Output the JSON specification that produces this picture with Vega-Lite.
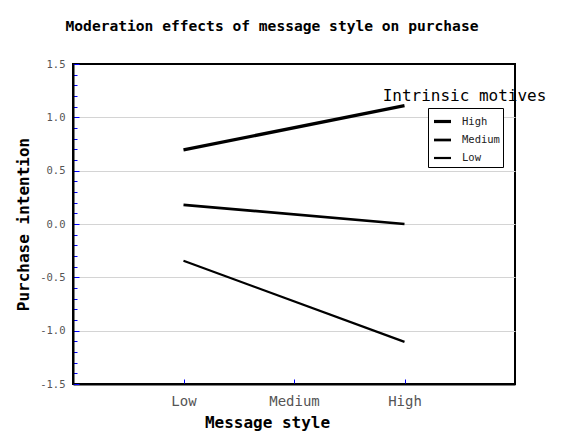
{
  "$schema": "https://vega.github.io/schema/vega-lite/v6.json",
  "autosize": "none",
  "width": 442,
  "height": 320,
  "padding": {"left": 73, "top": 64, "right": 49, "bottom": 47},
  "background": "white",
  "title": {
    "text": "Moderation effects of message style on purchase",
    "font": "DejaVu Sans Mono",
    "fontSize": 14.6,
    "fontWeight": "bold",
    "color": "black",
    "anchor": "middle",
    "dx": -22,
    "offset": 25
  },
  "config": {
    "view": {"stroke": "black", "strokeWidth": 2},
    "axis": {"domain": true, "domainColor": "black", "domainWidth": 2}
  },
  "data": {
    "values": [
      {"style": "Low", "motives": "High", "intention": 0.695},
      {"style": "High", "motives": "High", "intention": 1.11},
      {"style": "Low", "motives": "Medium", "intention": 0.18},
      {"style": "High", "motives": "Medium", "intention": 0.0},
      {"style": "Low", "motives": "Low", "intention": -0.345},
      {"style": "High", "motives": "Low", "intention": -1.105}
    ]
  },
  "layer": [
    {
      "mark": {"type": "line", "color": "black", "strokeCap": "butt"},
      "encoding": {
        "x": {
          "field": "style",
          "type": "ordinal",
          "scale": {"type": "point", "domain": ["Low", "Medium", "High"], "padding": 1},
          "axis": {
            "title": "Message style",
            "titleFont": "DejaVu Sans Mono",
            "titleFontSize": 16,
            "titleFontWeight": "bold",
            "titleColor": "black",
            "titleX": 194,
            "titlePadding": 6,
            "labelAngle": 0,
            "labelFont": "DejaVu Sans Mono",
            "labelFontSize": 14,
            "labelColor": "#555555",
            "labelPadding": 15,
            "tickColor": "blue",
            "tickSize": -5,
            "tickWidth": 1,
            "grid": false
          }
        },
        "y": {
          "field": "intention",
          "type": "quantitative",
          "scale": {"domain": [-1.5, 1.5], "nice": false, "zero": false},
          "axis": {
            "title": "Purchase intention",
            "titleFont": "DejaVu Sans Mono",
            "titleFontSize": 16,
            "titleFontWeight": "bold",
            "titleColor": "black",
            "titlePadding": 8,
            "tickCount": 100,
            "values": [-1.5, -1.4, -1.3, -1.2, -1.1, -1.0, -0.9, -0.8, -0.7, -0.6, -0.5, -0.4, -0.3, -0.2, -0.1, 0.0, 0.1, 0.2, 0.3, 0.4, 0.5, 0.6, 0.7, 0.8, 0.9, 1.0, 1.1, 1.2, 1.3, 1.4, 1.5],
            "labelExpr": "abs(round(datum.value * 10)) % 5 == 0 ? replace(format(datum.value, '.1f'), '\u2212', '-') : ''",
            "labelOverlap": false,
            "labelFont": "DejaVu Sans Mono",
            "labelFontSize": 10.5,
            "labelColor": "#555555",
            "labelPadding": 14,
            "tickColor": "blue",
            "tickWidth": 1,
            "tickSize": {"condition": {"test": "abs(round(datum.value * 10)) % 5 == 0", "value": -6}, "value": -4},
            "grid": true,
            "gridColor": "#d4d4d4",
            "gridWidth": 1,
            "gridOpacity": {"condition": {"test": "abs(round(datum.value * 10)) % 5 == 0 && abs(datum.value) < 1.4", "value": 1}, "value": 0}
          }
        },
        "strokeWidth": {
          "field": "motives",
          "type": "nominal",
          "scale": {"domain": ["High", "Medium", "Low"], "range": [3.2, 2.2, 1]},
          "legend": {
            "title": null,
            "orient": "none",
            "legendX": 355,
            "legendY": 44,
            "fillColor": "white",
            "strokeColor": "black",
            "padding": 3,
            "symbolType": "stroke",
            "symbolSize": 289,
            "symbolOffset": 1,
            "symbolStrokeColor": "black",
            "labelOffset": 9,
            "labelFont": "DejaVu Sans Mono",
            "labelFontSize": 10.5,
            "labelColor": "#222222",
            "rowPadding": 2
          }
        }
      }
    },
    {
      "data": {"values": [{"label": "Intrinsic motives"}]},
      "mark": {"type": "text", "font": "DejaVu Sans Mono", "fontSize": 16, "color": "black", "align": "center", "baseline": "middle", "dx": 60},
      "encoding": {
        "x": {"datum": "High"},
        "y": {"datum": 1.2},
        "text": {"field": "label"}
      }
    }
  ]
}
